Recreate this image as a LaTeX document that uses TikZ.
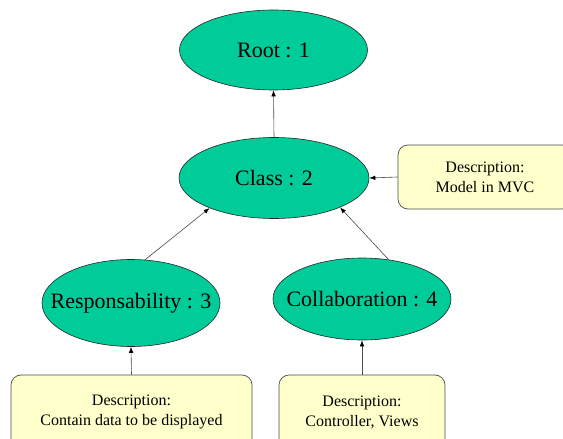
\documentclass[tikz,border=0pt]{standalone}
\usepackage{fontspec}
\setmainfont{Liberation Serif}
\usetikzlibrary{shapes.geometric,arrows.meta}
\definecolor{ellgreen}{RGB}{0,204,153}
\definecolor{boxyellow}{RGB}{255,255,204}
\newcommand{\zw}[1]{\makebox[0pt]{#1}}
\tikzset{
  ell/.style={ellipse, draw=black!85, line width=0.6pt, fill=ellgreen, inner sep=0pt, font=\fontsize{22}{25}\selectfont},
  descbox/.style={rectangle, rounded corners=10pt, draw=black!70, line width=0.7pt, fill=boxyellow, inner sep=0pt, align=center, font=\fontsize{16}{20}\selectfont},
  conn/.style={draw=black!70, line width=0.6pt, -{Latex[length=6pt,width=4.5pt,black]}}
}
\begin{document}
\begin{tikzpicture}[x=1pt,y=-1pt]
\useasboundingbox (0,0) rectangle (563,439);
\clip (0,0) rectangle (563,439);
\fill[white] (0,0) rectangle (563,439);
\node[ell, minimum width=188pt, minimum height=80pt] (root) at (273.5,50) {\zw{Root : 1}};
\node[ell, minimum width=190pt, minimum height=81pt] (class) at (274,178) {\zw{Class : 2}};
\node[ell, minimum width=178pt, minimum height=87pt] (resp) at (131,303) {\zw{Responsability : 3}};
\node[ell, minimum width=178pt, minimum height=82pt] (collab) at (362,299) {\zw{Collaboration : 4}};
\node[descbox, minimum width=174pt, minimum height=64pt] (dmvc) at (485,177) {Description:\\Model in MVC};
\node[descbox, minimum width=241pt, minimum height=74pt] (dresp) at (131.5,412) {Description:\\Contain data to be displayed};
\node[descbox, minimum width=166pt, minimum height=74pt] (dcollab) at (362,412) {Description:\\Controller, Views};
\draw[conn] (class.north) -- (root.south);
\draw[conn] (dmvc.west) -- (class.east);
\draw[conn] (resp.72) -- (class.205);
\draw[conn] (collab.56) -- (class.336);
\draw[conn] (dresp.north) -- (resp.south);
\draw[conn] (dcollab.north) -- (collab.south);
\end{tikzpicture}
\end{document}
